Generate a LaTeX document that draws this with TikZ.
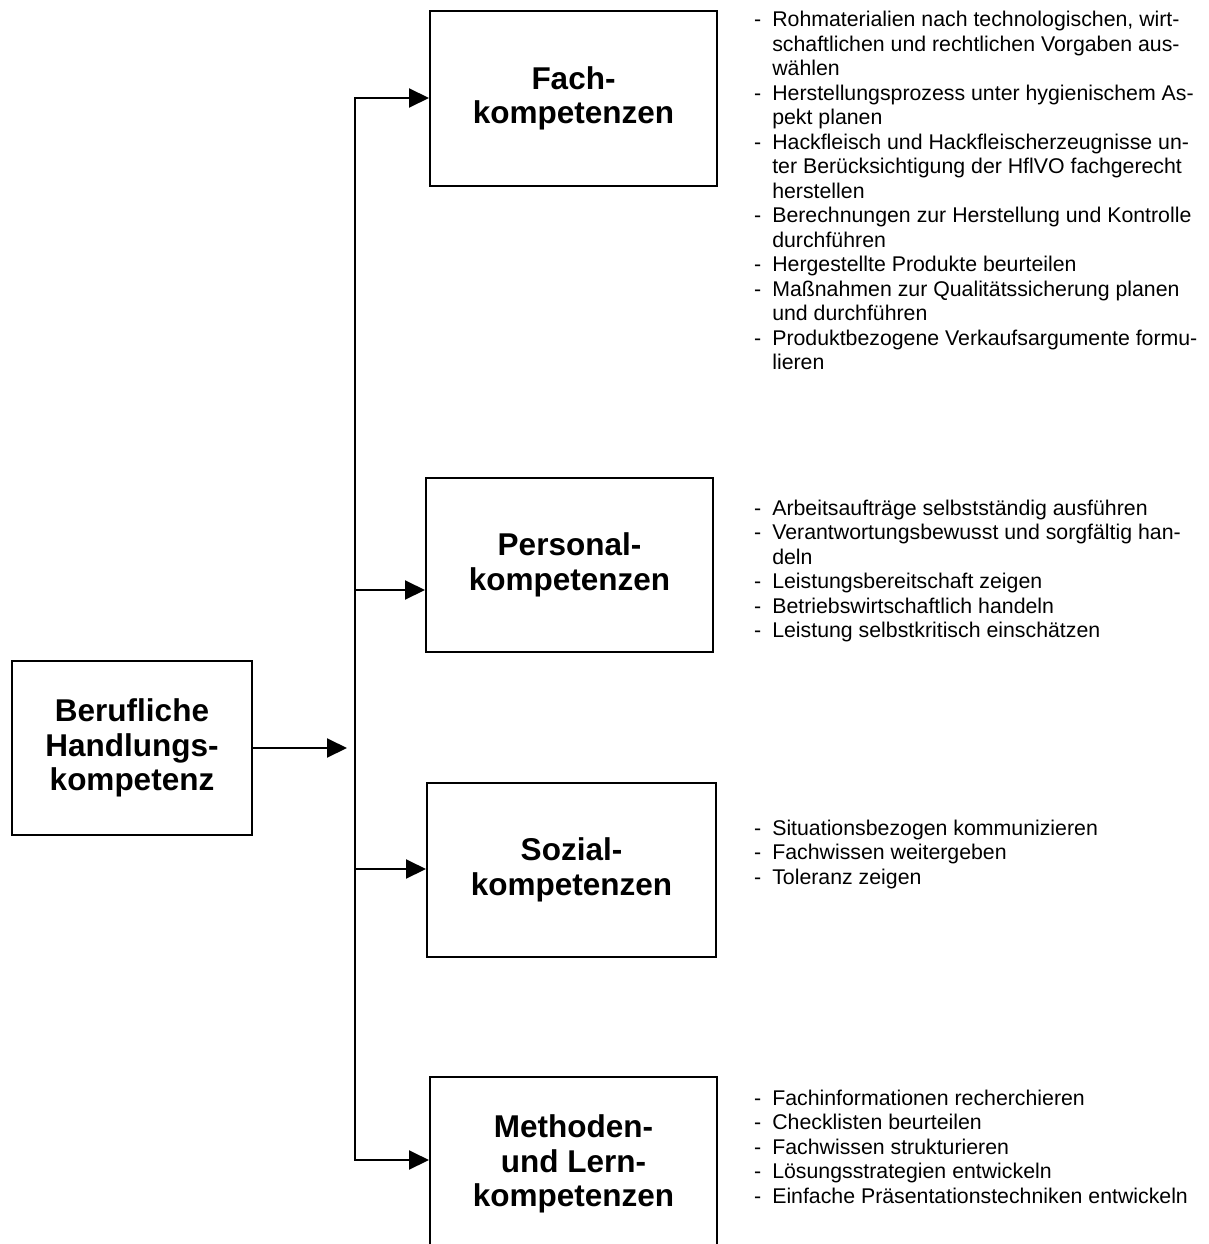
\documentclass[tikz,border=0pt]{standalone}
\usepackage{fontspec}
\setmainfont{Liberation Sans}
\usetikzlibrary{arrows.meta}

\newcommand{\punkte}[1]{\begin{tabular}[t]{@{}l@{\hspace{11pt}}l@{}}#1\end{tabular}}

\begin{document}
\begin{tikzpicture}[
        x=1pt, y=-1pt,
        kasten/.style={rectangle, draw, line width=2pt, inner sep=0pt, align=center,
            minimum width=287pt, minimum height=174pt,
            font=\fontsize{31.5}{34.5}\selectfont\bfseries},
        liste/.style={anchor=base west, inner sep=0pt, font=\fontsize{21.3}{24.5}\selectfont},
        pfeil/.style={line width=2pt, -{Triangle[length=20pt, width=19pt]}}
    ]
        \useasboundingbox (0,0) rectangle (1208,1244);

        % Kompetenzbereiche
        \node[kasten, minimum width=240pt] (beruf) at (132,748)
            {Berufliche\\Handlungs-\\kompetenz};
        \node[kasten] (fach) at (573.5,98.5) {Fach-\\kompetenzen};
        \node[kasten] (personal) at (569.5,565) {Personal-\\kompetenzen};
        \node[kasten, minimum width=289pt] (sozial) at (571.5,870) {Sozial-\\kompetenzen};
        \node[kasten] (methoden) at (573.5,1164) {Methoden-\\und Lern-\\kompetenzen};

        % Verteiler
        \coordinate (eingang) at (347,748);
        \coordinate (ast-fach) at (355,98);
        \coordinate (ast-personal) at (355,590);
        \coordinate (ast-sozial) at (355,869);
        \coordinate (ast-methoden) at (355,1160);

        \draw[pfeil] (beruf.east) -- (eingang);
        \draw[line width=2pt, {Triangle[length=20pt, width=19pt]}-{Triangle[length=20pt, width=19pt]}]
            (methoden.west |- ast-methoden) -- (ast-methoden) -- (ast-fach) -- (fach.west |- ast-fach);
        \foreach \ziel in {personal, sozial} {
            \draw[pfeil] (ast-\ziel) -- (\ziel.west |- ast-\ziel);
        }

        % Inhalte
        \node[liste] (fach-liste) at (754,27) {\punkte{%
            - & Rohmaterialien nach technologischen, wirt-\\
              & schaftlichen und rechtlichen Vorgaben aus-\\
              & wählen\\
            - & Herstellungsprozess unter hygienischem As-\\
              & pekt planen\\
            - & Hackfleisch und Hackfleischerzeugnisse un-\\
              & ter Berücksichtigung der HflVO fachgerecht\\
              & herstellen\\
            - & Berechnungen zur Herstellung und Kontrolle\\
              & durchführen\\
            - & Hergestellte Produkte beurteilen\\
            - & Maßnahmen zur Qualitätssicherung planen\\
              & und durchführen\\
            - & Produktbezogene Verkaufsargumente formu-\\
              & lieren}};
        \node[liste] (personal-liste) at (754,515) {\punkte{%
            - & Arbeitsaufträge selbstständig ausführen\\
            - & Verantwortungsbewusst und sorgfältig han-\\
              & deln\\
            - & Leistungsbereitschaft zeigen\\
            - & Betriebswirtschaftlich handeln\\
            - & Leistung selbstkritisch einschätzen}};
        \node[liste] (sozial-liste) at (754,835) {\punkte{%
            - & Situationsbezogen kommunizieren\\
            - & Fachwissen weitergeben\\
            - & Toleranz zeigen}};
        \node[liste] (methoden-liste) at (754,1105) {\punkte{%
            - & Fachinformationen recherchieren\\
            - & Checklisten beurteilen\\
            - & Fachwissen strukturieren\\
            - & Lösungsstrategien entwickeln\\
            - & Einfache Präsentationstechniken entwickeln}};
    \end{tikzpicture}
\end{document}
